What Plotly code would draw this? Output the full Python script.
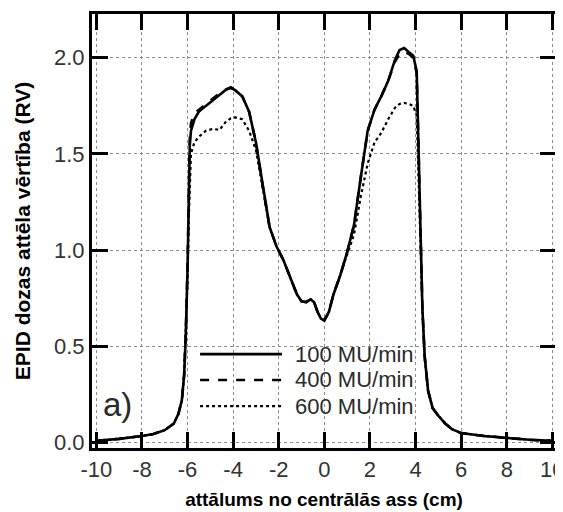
import plotly.graph_objects as go

# distance from central axis (cm)
x_cm = [-10, -9, -8, -7.5, -7, -6.6, -6.4, -6.25, -6.15, -6.08, -6.0, -5.95, -5.9, -5.85,
        -5.7, -5.5, -5.2, -4.9, -4.6, -4.3, -4.1, -3.9, -3.6, -3.3, -3.0, -2.7, -2.4, -2.1,
        -1.8, -1.5, -1.2, -1.0, -0.8, -0.6, -0.45, -0.3, -0.15, 0, 0.2, 0.4, 0.7, 1.0, 1.3,
        1.6, 1.9, 2.2, 2.5, 2.8, 3.1, 3.3, 3.5, 3.7, 3.9, 4.05, 4.12, 4.2, 4.3, 4.4, 4.55,
        4.75, 5.0, 5.3, 5.6, 6.0, 7.0, 8.0, 9.0, 10.0]

mu100 = [0.01, 0.02, 0.035, 0.045, 0.065, 0.10, 0.15, 0.22, 0.35, 0.55, 0.90, 1.25, 1.55, 1.62,
         1.68, 1.72, 1.75, 1.78, 1.81, 1.835, 1.845, 1.83, 1.80, 1.72, 1.56, 1.33, 1.12, 1.02,
         0.95, 0.86, 0.77, 0.735, 0.73, 0.745, 0.73, 0.68, 0.645, 0.635, 0.68, 0.77, 0.87, 0.99, 1.13,
         1.38, 1.62, 1.73, 1.80, 1.88, 1.99, 2.04, 2.05, 2.03, 2.01, 1.93, 1.55, 1.15, 0.70, 0.45, 0.27,
         0.18, 0.14, 0.10, 0.07, 0.05, 0.035, 0.025, 0.015, 0.01]

mu400 = [0.01, 0.02, 0.035, 0.045, 0.065, 0.10, 0.15, 0.22, 0.35, 0.55, 0.92, 1.28, 1.58, 1.66,
         1.71, 1.73, 1.76, 1.785, 1.815, 1.835, 1.845, 1.83, 1.80, 1.72, 1.56, 1.33, 1.12, 1.02,
         0.95, 0.86, 0.77, 0.735, 0.73, 0.745, 0.73, 0.68, 0.645, 0.635, 0.68, 0.77, 0.87, 0.99, 1.13,
         1.38, 1.62, 1.73, 1.80, 1.88, 1.98, 2.02, 2.03, 2.02, 2.00, 1.92, 1.55, 1.15, 0.70, 0.45, 0.27,
         0.18, 0.14, 0.10, 0.07, 0.05, 0.035, 0.025, 0.015, 0.01]

mu600 = [0.01, 0.02, 0.035, 0.045, 0.065, 0.10, 0.15, 0.22, 0.35, 0.55, 0.85, 1.15, 1.40, 1.50,
         1.56, 1.59, 1.62, 1.63, 1.625, 1.67, 1.685, 1.69, 1.68, 1.62, 1.52, 1.32, 1.12, 1.02,
         0.95, 0.86, 0.77, 0.735, 0.73, 0.745, 0.73, 0.68, 0.645, 0.635, 0.68, 0.77, 0.87, 0.97, 1.08,
         1.28, 1.45, 1.56, 1.61, 1.68, 1.74, 1.76, 1.765, 1.76, 1.75, 1.70, 1.45, 1.10, 0.68, 0.44, 0.27,
         0.18, 0.14, 0.10, 0.07, 0.05, 0.035, 0.025, 0.015, 0.01]

series_names = ["100 MU/min", "400 MU/min", "600 MU/min"]
x_ticks = [-10, -8, -6, -4, -2, 0, 2, 4, 6, 8, 10]
y_ticks = [0.0, 0.5, 1.0, 1.5, 2.0]
y_ticklabels = ["0.0", "0.5", "1.0", "1.5", "2.0"]

dashes = ["solid", "dash", "dot"]
widths = [2.6, 2.6, 2.2]
FONT = "Liberation Sans, Arial, sans-serif"

fig = go.Figure()
for name, ys, d, w in zip(series_names, [mu100, mu400, mu600], dashes, widths):
    fig.add_trace(go.Scatter(x=x_cm, y=ys, mode="lines", name=name,
                             line=dict(color="black", width=w, dash=d), showlegend=False))

# manual legend (long line samples as in the reference)
leg_y = [0.46, 0.326, 0.19]
for name, d, w, yy in zip(series_names, dashes, widths, leg_y):
    fig.add_shape(type="line", xref="x", yref="y", x0=-5.45, x1=-1.86, y0=yy, y1=yy,
                  line=dict(color="black", width=w, dash=d))
    fig.add_annotation(x=-1.37, y=yy, xref="x", yref="y", text=name, showarrow=False,
                       xanchor="left", yanchor="middle",
                       font=dict(family=FONT, size=22, color="#2a2a2a"))

fig.add_annotation(x=-9.07, y=0.20, xref="x", yref="y", text="a)", showarrow=False,
                   xanchor="center", yanchor="middle",
                   font=dict(family=FONT, size=33, color="#2a2a2a"))

axis_common = dict(showline=True, linecolor="black", linewidth=3, mirror="ticks",
                   ticks="inside", ticklen=16, tickwidth=3, tickcolor="black",
                   showgrid=True, gridcolor="#8c8c8c", gridwidth=1, griddash="dot",
                   zeroline=False, automargin=False,
                   tickfont=dict(family=FONT, size=22, color="#333"))

fig.update_xaxes(range=[-10.19, 10.16], tickvals=x_ticks, ticktext=[str(v) for v in x_ticks],
                 title=dict(text="<b>attālums no centrālās ass (cm)</b>", standoff=12,
                            font=dict(family=FONT, size=19, color="black")),
                 **axis_common)
fig.update_yaxes(range=[-0.0275, 2.227], tickvals=y_ticks, ticktext=y_ticklabels,
                 title=dict(text="<b>EPID dozas attēla vērtība (RV)</b>", standoff=18,
                            font=dict(family=FONT, size=21, color="black")),
                 **axis_common)

fig.update_layout(width=563, height=512, margin=dict(l=84, r=15, t=6, b=72),
                  plot_bgcolor="white", paper_bgcolor="white", showlegend=False)

fig.write_html("out.html")
